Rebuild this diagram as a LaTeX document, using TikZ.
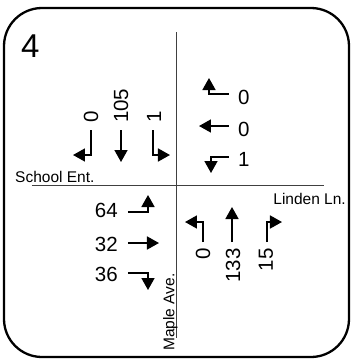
\documentclass[tikz,border=0pt]{standalone}
\usepackage{fontspec}
\setmainfont{Liberation Sans}
\usetikzlibrary{arrows.meta,positioning}

\begin{document}
\begin{tikzpicture}[x=1pt,y=-1pt]
             \tikzstyle{frame} = [line width=2.3pt,rounded corners=38pt]
             \tikzstyle{road} = [line width=1pt,draw=black!75]
             \tikzstyle{move} = [line width=1.7pt,-{Triangle[length=12pt,width=13pt]}]
             \tikzstyle{count} = [font=\fontsize{20.5}{24}\selectfont,inner sep=0pt]
             \tikzstyle{street} = [font=\fontsize{15.5}{18}\selectfont,inner sep=0pt]
		\useasboundingbox (0,0) rectangle (352,360);
		% Frame
		\draw[frame] (4,8) rectangle (349,357);
		\node[font=\fontsize{33}{36}\selectfont,inner sep=0pt,anchor=base west] (num) at (21,57) {4};
		% Roads
		\coordinate (r_n) at (177,32);
		\coordinate (r_s) at (177,338);
		\coordinate (r_w) at (32,185);
		\coordinate (r_e) at (324,185);
		\draw[road] (r_n) -- (r_s);
		\draw[road] (r_w) -- (r_e);
		\node[street,anchor=base west] (school) at (15,182) {School Ent.};
		\node[street,anchor=base east] (linden) at (346,204) {Linden Ln.};
		\node[street,rotate=90,anchor=base west] (maple) at (174.5,351) {Maple Ave.};
		% North approach
		\node[count,rotate=90,anchor=west] (n_lt) at (91,123) {0};
		\node[count,rotate=90,anchor=west] (n_th) at (121,123) {105};
		\node[count,rotate=90,anchor=west] (n_rt) at (154,123) {1};
		\coordinate (n_l0) at (91,130);  \coordinate (n_l1) at (73,155);
		\coordinate (n_t0) at (121,130); \coordinate (n_t1) at (121,162);
		\coordinate (n_r0) at (153,130); \coordinate (n_r1) at (170,155);
		\draw[move] (n_l0) |- (n_l1);
		\draw[move] (n_t0) -- (n_t1);
		\draw[move] (n_r0) |- (n_r1);
		% East approach
		\node[count,anchor=west] (e_lt) at (238,97.5) {0};
		\node[count,anchor=west] (e_th) at (238,129.5) {0};
		\node[count,anchor=west] (e_rt) at (238,159.5) {1};
		\coordinate (e_l0) at (229,94);  \coordinate (e_l1) at (209,78);
		\coordinate (e_t0) at (229,126); \coordinate (e_t1) at (199,126);
		\coordinate (e_r0) at (229,157); \coordinate (e_r1) at (211,173);
		\draw[move] (e_l0) -| (e_l1);
		\draw[move] (e_t0) -- (e_t1);
		\draw[move] (e_r0) -| (e_r1);
		% West approach
		\node[count,anchor=east] (w_lt) at (118,210.5) {64};
		\node[count,anchor=east] (w_th) at (118,244.5) {32};
		\node[count,anchor=east] (w_rt) at (118,274.5) {36};
		\coordinate (w_l0) at (128,212); \coordinate (w_l1) at (148,195);
		\coordinate (w_t0) at (128,243); \coordinate (w_t1) at (159,243);
		\coordinate (w_r0) at (128,273); \coordinate (w_r1) at (148,290);
		\draw[move] (w_l0) -| (w_l1);
		\draw[move] (w_t0) -- (w_t1);
		\draw[move] (w_r0) -| (w_r1);
		% South approach
		\node[count,rotate=90,anchor=east] (s_lt) at (203,248) {0};
		\node[count,rotate=90,anchor=east] (s_th) at (233,248) {133};
		\node[count,rotate=90,anchor=east] (s_rt) at (266,248) {15};
		\coordinate (s_l0) at (203,242); \coordinate (s_l1) at (185,222);
		\coordinate (s_t0) at (232,242); \coordinate (s_t1) at (232,207);
		\coordinate (s_r0) at (267,242); \coordinate (s_r1) at (282,222);
		\draw[move] (s_l0) |- (s_l1);
		\draw[move] (s_t0) -- (s_t1);
		\draw[move] (s_r0) |- (s_r1);
\end{tikzpicture}
\end{document}
